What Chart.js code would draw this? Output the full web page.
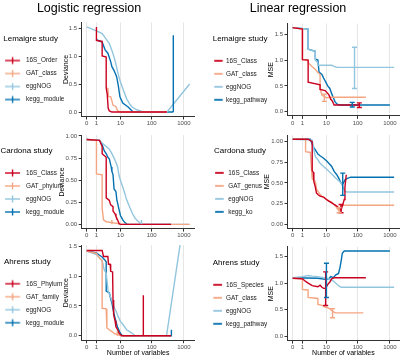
<!DOCTYPE html>
<html><head><meta charset="utf-8">
<script src="https://cdn.jsdelivr.net/npm/chart.js@4/dist/chart.umd.min.js"></script>
<style>
html,body{margin:0;padding:0;background:#fff;}
#wrap{position:relative;width:400px;height:358px;overflow:hidden;font-family:'Liberation Sans',Arial,sans-serif;}
canvas{position:absolute;}
.ttl{position:absolute;font-size:12.5px;line-height:14px;color:#000;white-space:nowrap;transform:translateX(-50%);z-index:2;}
</style></head><body>
<div id="wrap">
<div class="ttl" style="left:89px;top:1px">Logistic regression</div>
<div class="ttl" style="left:298px;top:1px">Linear regression</div>
<canvas id="c1" width="200" height="116" style="left:0;top:14px"></canvas>
<canvas id="c2" width="200" height="110" style="left:0;top:130px"></canvas>
<canvas id="c3" width="200" height="118" style="left:0;top:240px"></canvas>
<canvas id="c4" width="200" height="116" style="left:200px;top:14px"></canvas>
<canvas id="c5" width="200" height="110" style="left:200px;top:130px"></canvas>
<canvas id="c6" width="200" height="118" style="left:200px;top:240px"></canvas>
</div>
<script>
// ---------- data: [number of variables, value] ----------
const xTickLabels = [0, 1, 10, 100, 1000];

// Logistic regression - Lemaigre (Deviance)
const lrLemLabels = ['16S_Order', 'GAT_class', 'eggNOG', 'kegg_module'];
const lrLem16S = [[1,1.52],[1,1.28],[2,1.26],[2,1.0],[3,0.98],[3,0.43],[3.3,0.32],[3.6,0.07],[4,0.02],[5,0],[300,0]];
const lrLemGAT = [[3,0.43],[3.5,0.42],[3.7,0.28],[4.5,0.27],[5,0.2],[5.5,0.12],[7,0.1],[8,0.02],[10,0],[300,0]];
const lrLemEgg = [[0,1.52],[1,1.45],[2,1.4],[3,1.3],[4,1.22],[5,1.1],[6,0.98],[7,0.85],[8,0.72],[9.5,0.57],[12,0.42],[16,0.24],[20,0.15],[24,0.09],[34,0.04],[50,0.01],[65,0],[300,0],[1500,0.5]];
const lrLemKegg = [[1,1.29],[2,1.25],[2.7,1.11],[3.5,1.05],[4.5,0.9],[5,0.81],[6,0.74],[7.4,0.63],[8.4,0.48],[9.6,0.27],[12,0.16],[18,0.09],[23,0.03],[26,0],[470,0]];
const lrLemErrKegg = [[470,0,1.37]];

// Logistic regression - Cardona
const lrCarLabels = ['16S_Class', 'GAT_phylum', 'eggNOG', 'kegg_module'];
const lrCar16S = [[0,0.96],[1.5,0.95],[2,0.88],[2,0.8],[3,0.76],[3,0.3],[4,0.27],[4.5,0.22],[5.5,0.2],[5.5,0.15],[6.5,0.12],[7,0.09],[8,0.05],[9,0.01],[10,0],[400,0]];
const lrCarGAT = [[0,0.96],[1,0.95],[1,0.57],[2,0.56],[2,0.18],[2.3,0.05],[3,0.03],[5,0.02],[8,0.01],[10,0],[1500,0]];
const lrCarEgg = [[0,0.96],[1.5,0.95],[2,0.92],[3,0.88],[4,0.85],[5,0.8],[6,0.75],[7,0.7],[8,0.65],[9,0.55],[10,0.5],[12,0.42],[14,0.35],[16,0.28],[20,0.2],[25,0.12],[30,0.07],[36,0.04],[45,0.01],[50,0],[1500,0]];
const lrCarKegg = [[0,0.96],[1.5,0.95],[2,0.9],[2.5,0.83],[3,0.8],[3.5,0.76],[4,0.74],[4.7,0.65],[5,0.6],[5.5,0.56],[6,0.4],[7,0.37],[7.5,0.28],[8.5,0.2],[10,0.1],[12,0.05],[14,0.02],[17,0],[400,0]];
const lrCarErrGAT = [[5,0,0.05]];
const lrCarErrEgg = [[48,0,0.05]];

// Logistic regression - Ahrens
const lrAhrLabels = ['16S_Phylum', 'GAT_family', 'eggNOG', 'kegg_module'];
const lrAhr16S = [[0,1.43],[2,1.43],[2.3,1.33],[3.5,1.33],[3.7,1.2],[4.3,1.2],[4.5,1.08],[5.3,1.07],[5.5,0.6],[5.8,0.35],[6.5,0.25],[7,0.15],[8,0.1],[9,0.04],[11,0],[400,0]];
const lrAhrGAT = [[0,1.42],[1,1.38],[1.5,1.3],[2,1.26],[2,0.46],[3,0.45],[3.2,0.13],[4,0.1],[5,0.07],[6,0.04],[8,0.02],[10,0],[400,0]];
const lrAhrEgg = [[0,1.42],[1,1.36],[2,1.26],[2.5,1.1],[3,1.05],[3.6,0.74],[4.2,0.68],[4.9,0.6],[5.6,0.52],[6.3,0.46],[7.5,0.38],[8.4,0.32],[10,0.24],[12.5,0.18],[16,0.1],[20,0.07],[26,0.03],[30,0],[290,0],[1500,2.6]];
const lrAhrKegg = [[0,1.42],[1,1.39],[1.5,1.35],[2,1.32],[2.5,1.28],[3,1.24],[3,0.75],[4,0.72],[4.5,0.62],[5,0.55],[5.5,0.45],[6,0.36],[7,0.24],[8,0.14],[9.5,0.06],[11,0.01],[13,0],[400,0],[410,0.1]];
const lrAhrErr16S = [[55,0,0.68]];
const lrAhrErrGAT = [[7.8,0,0.08]];

// Linear regression - Lemaigre (MSE)
const lnLemLabels = ['16S_Class', 'GAT_class', 'eggNOG', 'kegg_pathway'];
const lnLem16S = [[0,1.63],[1,1.6],[1,1.01],[2,1.0],[2,0.57],[6,0.52],[6,0.43],[9,0.41],[12,0.33],[14,0.24],[16,0.2],[18,0.13],[113,0.13]];
const lnLemGAT = [[0,1.63],[1,1.6],[1,1.01],[2,1.0],[2,0.95],[3,0.87],[4,0.82],[5,0.76],[6,0.72],[6,0.45],[7,0.32],[8,0.3],[10,0.27],[14,0.28],[180,0.28]];
const lnLemEgg = [[0,1.63],[2,1.6],[2,1.21],[4,1.17],[4,1.0],[5,0.95],[5,0.9],[10,0.9],[15,0.9],[18,0.88],[22,0.86],[1350,0.86]];
const lnLemKegg = [[0,1.63],[2,1.6],[2,1.21],[4,1.17],[4,1.02],[5,1.0],[5.5,0.77],[7,0.72],[8,0.65],[9,0.6],[10,0.55],[11,0.5],[13,0.45],[15,0.35],[17,0.27],[19,0.2],[22,0.15],[26,0.13],[1000,0.13]];
const lnLemErr16S = [[113,0.08,0.17]];
const lnLemErrGAT = [[8.5,0.2,0.34]];
const lnLemErrEgg = [[80,0.45,1.25]];
const lnLemErrKegg = [[68,0.09,0.18]];

// Linear regression - Cardona
const lnCarLabels = ['16S_Class', 'GAT_genus', 'eggNOG', 'kegg_ko'];
const lnCar16S = [[0,1.03],[2,1.03],[3,1.0],[3,0.65],[3.3,0.63],[3.5,0.52],[4,0.45],[4.4,0.38],[5,0.36],[6,0.34],[8,0.33],[10,0.3],[12,0.28],[15,0.26],[18,0.24],[22,0.22],[25,0.2],[28,0.19],[30,0.17],[33,0.22],[38,0.3],[40,0.45],[44,0.6]];
const lnCarGAT = [[0,1.03],[1.5,1.03],[1.5,0.88],[2.5,0.87],[3,0.55],[4,0.52],[4.5,0.42],[5,0.4],[6,0.36],[7,0.34],[10,0.3],[15,0.27],[20,0.22],[24,0.18],[26,0.17],[30,0.22],[35,0.23],[1350,0.23]];
const lnCarEgg = [[0,1.03],[3,1.02],[3.5,0.9],[4,0.82],[5,0.78],[6,0.74],[8,0.7],[10,0.67],[13,0.63],[16,0.6],[20,0.56],[25,0.53],[30,0.5],[35,0.45],[40,0.4],[45,0.39],[1350,0.39]];
const lnCarKegg = [[0,1.03],[2.5,1.03],[3,0.97],[3.5,0.93],[4,0.9],[5,0.85],[6,0.83],[8,0.8],[10,0.77],[12,0.74],[15,0.7],[18,0.64],[22,0.6],[26,0.55],[30,0.5],[33,0.48],[36,0.5],[40,0.54],[50,0.56],[60,0.57],[1350,0.57]];
const lnCarErr16S = [[30,0.14,0.24]];
const lnCarErrGAT = [[26,0.14,0.2]];
const lnCarErrKegg = [[34,0.35,0.62]];

// Linear regression - Ahrens
const lnAhrLabels = ['16S_Species', 'GAT_class', 'eggNOG', 'kegg_pathway'];
const lnAhr16S = [[0,1.09],[1,1.08],[1.5,1.03],[2,1.0],[3,0.95],[5,0.93],[6,0.96],[7,0.92],[8,0.9],[9.4,0.9],[11,0.97],[13,1.02],[15,1.08],[18,1.1],[180,1.1]];
const lnAhrGAT = [[0,1.09],[1,1.08],[1,0.88],[2,0.87],[2,0.73],[5,0.71],[5,0.6],[7,0.58],[9,0.55],[12,0.53],[14,0.5],[17,0.46],[20,0.44],[150,0.44]];
const lnAhrEgg = [[0,1.1],[1,1.12],[2,1.14],[3,1.13],[5,1.12],[8,1.1],[12,1.08],[16,1.05],[20,1.0],[25,0.95],[30,0.92],[1350,0.92]];
const lnAhrKegg = [[0,1.1],[5,1.09],[9,1.07],[12,1.08],[14,1.12],[17,1.1],[20,1.15],[25,1.18],[28,1.3],[31,1.45],[33,1.56],[38,1.6],[1000,1.6]];
const lnAhrErr16S = [[9.4,0.58,1.21]];
const lnAhrErrGAT = [[16,0.35,0.52]];
const lnAhrErrKegg = [[10,0.73,1.37]];

const yTicksHalf = [0, 0.5, 1.0, 1.5];
const yTicksQuarter = [0, 0.25, 0.5, 0.75, 1.0];

// ---------- styling / drawing ----------
const COLORS = ['#ca0020', '#f4a582', '#92c5de', '#0571b0'];
Chart.defaults.font.family = "'Liberation Sans', Arial, sans-serif";

function tx(n) { return Math.log10(n + 1); }

function keyImage(color, iw, k0, k1, cross, lw) {
  const c = document.createElement('canvas');
  c.width = iw; c.height = 10;
  const g = c.getContext('2d');
  g.strokeStyle = color; g.lineWidth = lw;
  g.beginPath(); g.moveTo(k0, 5); g.lineTo(k1, 5); g.stroke();
  if (cross) { const mx = (k0 + k1) / 2; g.beginPath(); g.moveTo(mx, 1.5); g.lineTo(mx, 8.5); g.stroke(); }
  return c;
}

const errorBarPlugin = {
  id: 'errorBars',
  afterDatasetsDraw(chart, args, opts) {
    const { ctx, chartArea } = chart;
    const xs = chart.scales.x, ys = chart.scales.y;
    const cap = (opts && opts.cap) || 0;
    ctx.save();
    ctx.beginPath(); ctx.rect(chartArea.left, chartArea.top, chartArea.right - chartArea.left, chartArea.bottom - chartArea.top); ctx.clip();
    chart.data.datasets.forEach(ds => {
      (ds.errorBars || []).forEach(([n, lo, hi]) => {
        const px = xs.getPixelForValue(tx(n)), y0 = ys.getPixelForValue(lo), y1 = ys.getPixelForValue(hi);
        ctx.strokeStyle = ds.borderColor; ctx.lineWidth = ds.borderWidth;
        ctx.beginPath(); ctx.moveTo(px, y0); ctx.lineTo(px, y1);
        if (cap) { ctx.moveTo(px - cap, y0); ctx.lineTo(px + cap, y0); ctx.moveTo(px - cap, y1); ctx.lineTo(px + cap, y1); }
        ctx.stroke();
      });
    });
    ctx.restore();
  }
};

function makePanel(id, s) {
  const LP = 6.6, LFS = 6.4;
  const x0 = s.legendX + LP;
  const boxW = s.textX - LFS / 2 - x0;
  const cx = x0 + boxW / 2;
  const half = Math.max(cx - s.key[0], s.key[1] - cx);
  const iw = Math.ceil(half * 2);
  const imgLeft = cx - iw / 2;
  const st = { yw: 20 };
  const datasets = s.series.map((data, i) => ({
    label: s.labels[i],
    data: data.map(([n, v]) => ({ x: tx(n), y: v })),
    borderColor: COLORS[i], backgroundColor: COLORS[i], borderWidth: 1.4,
    pointRadius: 0, pointHoverRadius: 0, tension: 0, fill: false,
    pointStyle: keyImage(COLORS[i], iw, s.key[0] - imgLeft, s.key[1] - imgLeft, s.cross, s.keyLW),
    errorBars: s.errors[i] || []
  }));
  const chart = new Chart(document.getElementById(id), {
    type: 'line',
    data: { datasets },
    options: {
      responsive: false, animation: false, events: [],
      layout: { padding: { left: s.legendX, right: 0, top: 0, bottom: 0 } },
      plugins: {
        legend: {
          position: 'left', align: 'center', fullSize: false, maxWidth: s.legendRight - s.legendX,
          title: { display: true, text: s.legendTitle, position: 'start', color: '#000', font: { size: 8 }, padding: { top: 5.2, bottom: 6.4 } },
          labels: { usePointStyle: true, pointStyleWidth: boxW, padding: LP, color: '#1a1a1a', font: { size: LFS } }
        },
        tooltip: { enabled: false },
        errorBars: { cap: s.cap }
      },
      scales: {
        x: {
          type: 'linear', min: s.xmin, max: s.xmax,
          afterBuildTicks: sc => { sc.ticks = xTickLabels.map(v => ({ value: tx(v) })); },
          afterFit: sc => { sc.height = s.xh; },
          ticks: { autoSkip: false, maxRotation: 0, padding: 0.5, color: '#4d4d4d', font: { size: 6 }, callback: (v, i) => String(xTickLabels[i]) },
          grid: { color: '#e6e6e6', lineWidth: 1, tickLength: 3, tickColor: '#333' },
          border: { display: true, color: '#333', width: 1 },
          title: { display: !!s.xTitle, text: s.xTitle || '', color: '#000', font: { size: 7 }, padding: { top: 0, bottom: 0.5 } }
        },
        y: {
          type: 'linear', min: s.ymin, max: s.ymax,
          afterBuildTicks: sc => { sc.ticks = s.yTicks.map(v => ({ value: v })); },
          afterFit: sc => { sc.width = st.yw; },
          ticks: { padding: 1.5, color: '#4d4d4d', font: { size: 6 }, callback: v => Number(v).toFixed(s.yDec) },
          grid: { drawOnChartArea: false, tickLength: 3, tickColor: '#333' },
          border: { display: true, color: '#333', width: 1 },
          title: { display: true, text: s.yTitle, color: '#000', font: { size: 7 }, padding: { top: 0, bottom: 0 } }
        }
      }
    },
    plugins: [errorBarPlugin]
  });
  for (let k = 0; k < 5; k++) {
    const ca = chart.chartArea;
    st.yw += s.area.left - ca.left;
    const p = chart.options.layout.padding;
    chart.options.layout.padding = {
      left: s.legendX,
      right: p.right + (ca.right - s.area.right),
      top: p.top + (s.area.top - ca.top),
      bottom: p.bottom + (ca.bottom - s.area.bottom)
    };
    const ysc = chart.scales.y;
    chart.options.scales.y.title.padding = { top: s.yTitleX - ysc.left - 7 * 1.2 / 2, bottom: 0 };
    chart.update('none');
  }
  return chart;
}

const L = { xmin: -0.154, xmax: 3.33, cross: true, keyLW: 1.4, cap: 0, yTitle: 'Deviance', legendRight: 65 };
const R = { xmin: -0.16, xmax: 3.29, cross: false, keyLW: 1.8, cap: 2.5, yTitle: 'MSE', legendRight: 70 };

makePanel('c1', Object.assign({}, L, {
  legendTitle: 'Lemaigre study', labels: lrLemLabels, legendX: 3.3, key: [5, 20], textX: 26,
  series: [lrLem16S, lrLemGAT, lrLemEgg, lrLemKegg], errors: [[], [], [], lrLemErrKegg],
  ymin: -0.08, ymax: 1.6, yTicks: yTicksHalf, yDec: 1, yTitleX: 66.5, xh: 13,
  area: { left: 81.7, right: 194.6, top: 8.4, bottom: 102.5 }
}));
makePanel('c2', Object.assign({}, L, {
  legendTitle: 'Cardona study', labels: lrCarLabels, legendX: 0.5, key: [5, 20], textX: 26, legendRight: 64,
  series: [lrCar16S, lrCarGAT, lrCarEgg, lrCarKegg], errors: [[], lrCarErrGAT, lrCarErrEgg, []],
  ymin: -0.048, ymax: 1.01, yTicks: yTicksQuarter, yDec: 2, yTitleX: 62, xh: 11,
  area: { left: 81.7, right: 194.6, top: 4.4, bottom: 98.6 }
}));
makePanel('c3', Object.assign({}, L, {
  legendTitle: 'Ahrens study', labels: lrAhrLabels, legendX: 4, key: [5, 20], textX: 26,
  series: [lrAhr16S, lrAhrGAT, lrAhrEgg, lrAhrKegg], errors: [lrAhrErr16S, lrAhrErrGAT, [], []],
  ymin: -0.075, ymax: 1.52, yTicks: yTicksHalf, yDec: 1, yTitleX: 66.3, xh: 17.8, xTitle: 'Number of variables',
  area: { left: 81.7, right: 194.6, top: 5.3, bottom: 100.2 }
}));
makePanel('c4', Object.assign({}, R, {
  legendTitle: 'Lemaigre study', labels: lnLemLabels, legendX: 12.7, key: [14, 22.7], textX: 26,
  series: [lnLem16S, lnLemGAT, lnLemEgg, lnLemKegg], errors: [lnLemErr16S, lnLemErrGAT, lnLemErrEgg, lnLemErrKegg],
  ymin: -0.082, ymax: 1.71, yTicks: yTicksHalf, yDec: 1, yTitleX: 71, xh: 13,
  area: { left: 87.5, right: 200, top: 9.5, bottom: 101.9 }
}));
makePanel('c5', Object.assign({}, R, {
  legendTitle: 'Cardona study', labels: lnCarLabels, legendX: 14, key: [15, 23.7], textX: 28.3, legendRight: 66,
  series: [lnCar16S, lnCarGAT, lnCarEgg, lnCarKegg], errors: [lnCarErr16S, lnCarErrGAT, [], lnCarErrKegg],
  ymin: -0.05, ymax: 1.08, yTicks: yTicksQuarter, yDec: 2, yTitleX: 67.5, xh: 11,
  area: { left: 87.5, right: 200, top: 5.7, bottom: 98.4 }
}));
makePanel('c6', Object.assign({}, R, {
  legendTitle: 'Ahrens study', labels: lnAhrLabels, legendX: 12.7, key: [13.3, 22], textX: 26,
  series: [lnAhr16S, lnAhrGAT, lnAhrEgg, lnAhrKegg], errors: [lnAhrErr16S, lnAhrErrGAT, [], lnAhrErrKegg],
  ymin: -0.08, ymax: 1.68, yTicks: yTicksHalf, yDec: 1, yTitleX: 71, xh: 17.4, xTitle: 'Number of variables',
  area: { left: 87.5, right: 200, top: 6.8, bottom: 100.6 }
}));
</script>
</body></html>
